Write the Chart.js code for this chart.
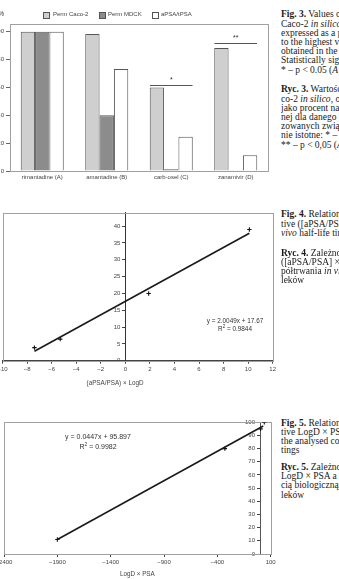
<!DOCTYPE html>
<html>
<head>
<meta charset="utf-8">
<script src="https://cdn.jsdelivr.net/npm/chart.js@4.4.1/dist/chart.umd.min.js"></script>
<style>
body { margin:0; width:339px; height:579px; overflow:hidden; background:#fff; position:relative; font-family:"Liberation Sans", Arial, sans-serif; color:#444; }
.pane { position:absolute; }
.cap { position:absolute; left:281px; width:58px; overflow:hidden; white-space:nowrap; font-family:"Liberation Serif", "Times New Roman", serif; font-size:9.5px; line-height:9.2px; color:#1a1a1a; }
.lab { position:absolute; white-space:nowrap; font-size:6px; color:#444; }
.sw { position:absolute; width:7px; height:7px; border:1px solid #555; box-sizing:border-box; }
.eq { position:absolute; text-align:center; white-space:nowrap; color:#333; }
sup { font-size:70%; vertical-align:3px; line-height:0; }
</style>
</head>
<body>

<div class="pane" style="left:-30px;top:0"><canvas id="fig3" width="300" height="190"></canvas></div>
<div class="pane" style="left:-20px;top:200px"><canvas id="fig4" width="300" height="190"></canvas></div>
<div class="pane" style="left:-20px;top:405px"><canvas id="fig5" width="300" height="174"></canvas></div>

<!-- fig 3 legend and unit -->
<div class="lab" style="left:-2px;top:10px;font-size:7px">%</div>
<div class="sw" style="left:43px;top:12px;background:#cfcfcf"></div>
<div class="lab" style="left:53px;top:11px">Perm Caco-2</div>
<div class="sw" style="left:99px;top:12px;background:#8c8c8c"></div>
<div class="lab" style="left:108px;top:11px">Perm MDCK</div>
<div class="sw" style="left:152px;top:12px;background:#fff"></div>
<div class="lab" style="left:161px;top:11px">aPSA/tPSA</div>

<!-- regression labels -->
<div class="eq" style="left:195px;top:317px;width:80px;font-size:6.4px;line-height:7.6px">y = 2.0049x + 17.67<br>R<sup>2</sup> = 0.9844</div>
<div class="lab" style="left:75px;top:379px;width:80px;text-align:center;font-size:6.3px">(aPSA/PSA) × LogD</div>
<div class="eq" style="left:48px;top:432px;width:100px;font-size:7px;line-height:10px">y = 0.0447x + 95.897<br>R<sup>2</sup> = 0.9982</div>

<!-- captions -->
<div class="cap" style="top:10.4px"><b>Fig. 3.</b> Values of permeability in MDCK and<br>Caco-2 <i>in silico</i> and aPSA/tPSA ratio<br>expressed as a percentage in relation<br>to the highest value of the parameter<br>obtained in the set of analysed drugs.<br>Statistically significant differences:<br>* – p &lt; 0.05 (<i>A</i> vs. <i>C</i>), ** – p &lt; 0.05</div>
<div class="cap" style="top:85.4px"><b>Ryc. 3.</b> Wartości przepuszczalności Ca-<br>co-2 <i>in silico</i>, oraz stosunku aPSA/tPSA<br>jako procent najwyższej wartości uzyska-<br>nej dla danego parametru w grupie anali-<br>zowanych związków. Różnice statystycz-<br>nie istotne: * – p &lt; 0,05 (<i>A</i> vs. <i>C</i>),<br>** – p &lt; 0,05 (<i>A</i> vs. <i>D</i>)</div>
<div class="cap" style="top:210.4px"><b>Fig. 4.</b> Relationship between the descrip-<br>tive ([aPSA/PSA] × LogD) and the <i>in</i><br><i>vivo</i> half-life time of the analysed drugs</div>
<div class="cap" style="top:248.7px"><b>Ryc. 4.</b> Zależność między deskryptorem<br>([aPSA/PSA] × LogD) a okresem<br>półtrwania <i>in vivo</i> analizowanych<br>leków</div>
<div class="cap" style="top:418.7px"><b>Fig. 5.</b> Relationship between the descrip-<br>tive LogD × PSA and bioavailability of<br>the analysed compounds in oral set-<br>tings</div>
<div class="cap" style="top:463px"><b>Ryc. 5.</b> Zależność między deskryptorem<br>LogD × PSA a dostępnoś-<br>cią biologiczną po podaniu doustnym<br>leków</div>

<script>
// Fig. 3 – values in % of the highest value
var drugs = ['rimantadine (A)', 'amantadine (B)', 'carb-osel (C)', 'zanamivir (D)'];
var permCaco2 = [100, 98.3, 60, 88.3];
var permMDCK = [100, 40, 1.2, 0.6];
var apsaRatio = [100, 73.2, 24.5, 11.3];
var barTicks = [0, 20, 40, 60, 80, 100];

// significance brackets: category index, height in %, mark
var sigCategory = [2, 3];
var sigLevel = [62, 92];
var sigMark = ['*', '**'];

// Fig. 4 – descriptor vs half-life
var descX = [-7.4, -5.3, 1.9, 10.1];
var halfLife = [3.9, 6.4, 20, 39];
var fit4X = [-7.4, 10.1];
var fit4Y = [2.8, 37.9];

// Fig. 5 – LogD x PSA vs bioavailability
var logdPsa = [-1900, -330, 5, 40];
var bioavail = [11, 80, 95, 100];
var fit5X = [-1900, 30];
var fit5Y = [11, 97.2];

Chart.defaults.font.family = '"Liberation Sans", Arial, sans-serif';
Chart.defaults.font.size = 6;
Chart.defaults.color = '#444';

function minus(v) {
	return String(v).replace('-', '\u2212');
}

function points(xs, ys) {
	return xs.map(function (x, i) { return {x: x, y: ys[i]}; });
}

// grey frame round the plot area
var areaBorder = {
	id: 'areaBorder',
	beforeDatasetsDraw: function (chart, args, opts) {
		var a = chart.chartArea, ctx = chart.ctx;
		ctx.save();
		ctx.strokeStyle = opts.color || '#999';
		ctx.lineWidth = 1;
		ctx.strokeRect(Math.round(a.left) + 0.5, Math.round(a.top) + 0.5, Math.round(a.width), Math.round(a.height));
		ctx.restore();
	}
};

// significance lines with stars above category groups
var sigBars = {
	id: 'sigBars',
	afterDatasetsDraw: function (chart) {
		var x = chart.scales.x, y = chart.scales.y, ctx = chart.ctx;
		var half = x.width / drugs.length * 0.33;
		ctx.save();
		ctx.strokeStyle = '#555';
		ctx.fillStyle = '#333';
		ctx.lineWidth = 1;
		ctx.font = '7px "Liberation Sans", Arial, sans-serif';
		ctx.textAlign = 'center';
		for (var i = 0; i < sigCategory.length; ++i) {
			var cx = x.getPixelForValue(sigCategory[i]);
			var py = Math.round(y.getPixelForValue(sigLevel[i])) + 0.5;
			ctx.beginPath();
			ctx.moveTo(cx - half, py);
			ctx.lineTo(cx + half, py);
			ctx.stroke();
			ctx.fillText(sigMark[i], cx, py - 4);
		}
		ctx.restore();
	}
};

//Create bar chart.
new Chart(document.getElementById('fig3'), {
	type: 'bar',
	data: {
		labels: drugs,
		datasets: [
			{label: 'Perm Caco-2', data: permCaco2, backgroundColor: '#cfcfcf'},
			{label: 'Perm MDCK', data: permMDCK, backgroundColor: '#8c8c8c'},
			{label: 'aPSA/tPSA', data: apsaRatio, backgroundColor: '#ffffff'}
		]
	},
	options: {
		responsive: false,
		animation: false,
		datasets: {bar: {barPercentage: 1, categoryPercentage: 0.667, borderColor: '#555', borderWidth: 1}},
		layout: {padding: {left: 10, top: 24, right: 2, bottom: 5}},
		plugins: {legend: {display: false}, tooltip: {enabled: false}, areaBorder: {color: '#a0a0a0'}},
		scales: {
			x: {
				grid: {display: false, drawTicks: false},
				border: {color: '#555'},
				ticks: {padding: 3, maxRotation: 0, autoSkip: false},
				afterFit: function (s) { s.height = 14; }
			},
			y: {
				min: 0, max: 105.5,
				grid: {drawOnChartArea: false, tickLength: 4, color: '#666'},
				border: {color: '#666'},
				ticks: {padding: 2},
				afterBuildTicks: function (s) { s.ticks = barTicks.map(function (v) { return {value: v}; }); },
				afterFit: function (s) { s.width = 30; }
			}
		}
	},
	plugins: [areaBorder, sigBars]
});

//Create scatter charts with trend lines.
function scatterChart(id, xs, ys, fx, fy, xOpts, yOpts, pad) {
	return new Chart(document.getElementById(id), {
		type: 'scatter',
		data: {
			datasets: [
				{data: points(fx, fy), showLine: true, borderColor: '#1a1a1a', borderWidth: 1.6, pointRadius: 0},
				{data: points(xs, ys), pointStyle: 'cross', pointRadius: 2.2, borderColor: '#111', borderWidth: 1.1}
			]
		},
		options: {
			responsive: false,
			animation: false,
			layout: {padding: pad},
			plugins: {legend: {display: false}, tooltip: {enabled: false}, areaBorder: {color: '#a0a0a0'}},
			scales: {x: xOpts, y: yOpts}
		},
		plugins: [areaBorder]
	});
}

scatterChart('fig4', descX, halfLife, fit4X, fit4Y,
	{
		type: 'linear', min: -10, max: 12,
		grid: {drawOnChartArea: false, tickLength: 3, color: '#444'},
		border: {color: '#444'},
		ticks: {stepSize: 2, padding: 2, callback: minus},
		afterFit: function (s) { s.height = 13; }
	},
	{
		type: 'linear', min: 0, max: 44, position: {x: 0},
		grid: {drawOnChartArea: false, tickLength: 3, color: '#444'},
		border: {color: '#333'},
		ticks: {padding: 2, callback: function (v) { return v + '   '; }},
		afterBuildTicks: function (s) { s.ticks = s.ticks.filter(function (t) { return t.value % 5 === 0; }); }
	},
	{left: 22.5, right: 7.3, top: 12.7, bottom: 16.3});

scatterChart('fig5', logdPsa, bioavail, fit5X, fit5Y,
	{
		type: 'linear', min: -2400, max: 100,
		grid: {drawOnChartArea: false, tickLength: 3, color: '#444'},
		border: {color: '#444'},
		ticks: {stepSize: 500, padding: 2, callback: minus},
		title: {display: true, text: 'LogD × PSA', font: {size: 6.3}, padding: 0},
		afterFit: function (s) { s.height = 24; }
	},
	{
		type: 'linear', min: 0, max: 100, position: {x: 0},
		grid: {drawOnChartArea: false, tickLength: 3, color: '#444'},
		border: {color: '#555'},
		ticks: {stepSize: 10, padding: 2, callback: function (v) { return v + '   '; }}
	},
	{left: 24, right: 9.3, top: 17.3, bottom: 1});
</script>
</body>
</html>
